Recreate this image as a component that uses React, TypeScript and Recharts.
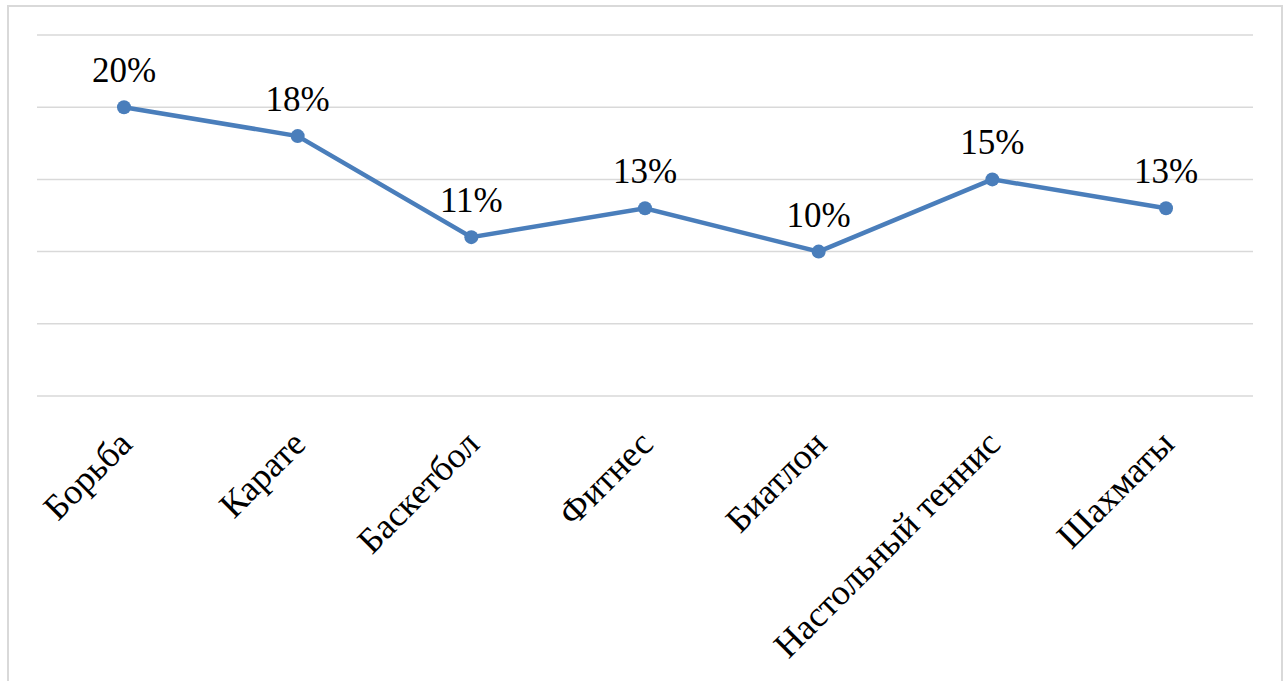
import { LineChart, Line, XAxis, YAxis, CartesianGrid, LabelList } from "recharts";

const sports = [
  "Борьба",
  "Карате",
  "Баскетбол",
  "Фитнес",
  "Биатлон",
  "Настольный теннис",
  "Шахматы",
];
const shares = [20, 18, 11, 13, 10, 15, 13];
const yTicks = [0, 5, 10, 15, 20, 25];

const data = sports.map((name, i) => ({ name, share: shares[i] }));

const FONT = "Liberation Serif, Tinos, serif";
const LINE_COLOR = "#4a7ebb";

function SportTick(props: any) {
  const { x, y, payload } = props;
  const tx = x + 10;
  const ty = y + 50;
  return (
    <text
      x={tx}
      y={ty}
      transform={`rotate(-45, ${tx}, ${ty})`}
      textAnchor="end"
      fontFamily={FONT}
      fontSize={36}
      fill="#000"
      style={{ fontFamily: FONT, fontSize: 36 }}
    >
      {payload.value}
    </text>
  );
}

function ShareLabel(props: any) {
  const { x, y, value } = props;
  return (
    <text
      x={x}
      y={y - 25}
      textAnchor="middle"
      fontFamily={FONT}
      fontSize={35}
      fill="#000"
      style={{ fontFamily: FONT, fontSize: 35 }}
    >
      {`${value}%`}
    </text>
  );
}

export default function App() {
  return (
    <div
      style={{
        position: "absolute",
        left: 0,
        top: 0,
        width: 1288,
        height: 681,
        overflow: "hidden",
        background: "#fff",
        fontFamily: FONT,
      }}
    >
      <div
        style={{
          position: "absolute",
          left: 7,
          top: 5,
          width: 1272,
          height: 720,
          border: "2px solid #d9d9d9",
        }}
      />
      <LineChart
        width={1288}
        height={681}
        data={data}
        margin={{ top: 35, right: 35, left: 37, bottom: 0 }}
        style={{ position: "absolute", left: 0, top: 0, fontFamily: FONT }}
      >
        <CartesianGrid vertical={false} stroke="#d9d9d9" strokeWidth={1.5} />
        <XAxis
          dataKey="name"
          axisLine={false}
          tickLine={false}
          tickSize={0}
          tickMargin={0}
          height={285}
          interval={0}
          padding={{ left: 87, right: 87 }}
          tick={<SportTick />}
        />
        <YAxis hide domain={[0, 25]} ticks={yTicks} />
        <Line
          dataKey="share"
          stroke={LINE_COLOR}
          strokeWidth={4.5}
          dot={{ r: 7, fill: LINE_COLOR, stroke: "none" }}
          isAnimationActive={false}
        >
          <LabelList dataKey="share" content={<ShareLabel />} />
        </Line>
      </LineChart>
    </div>
  );
}
